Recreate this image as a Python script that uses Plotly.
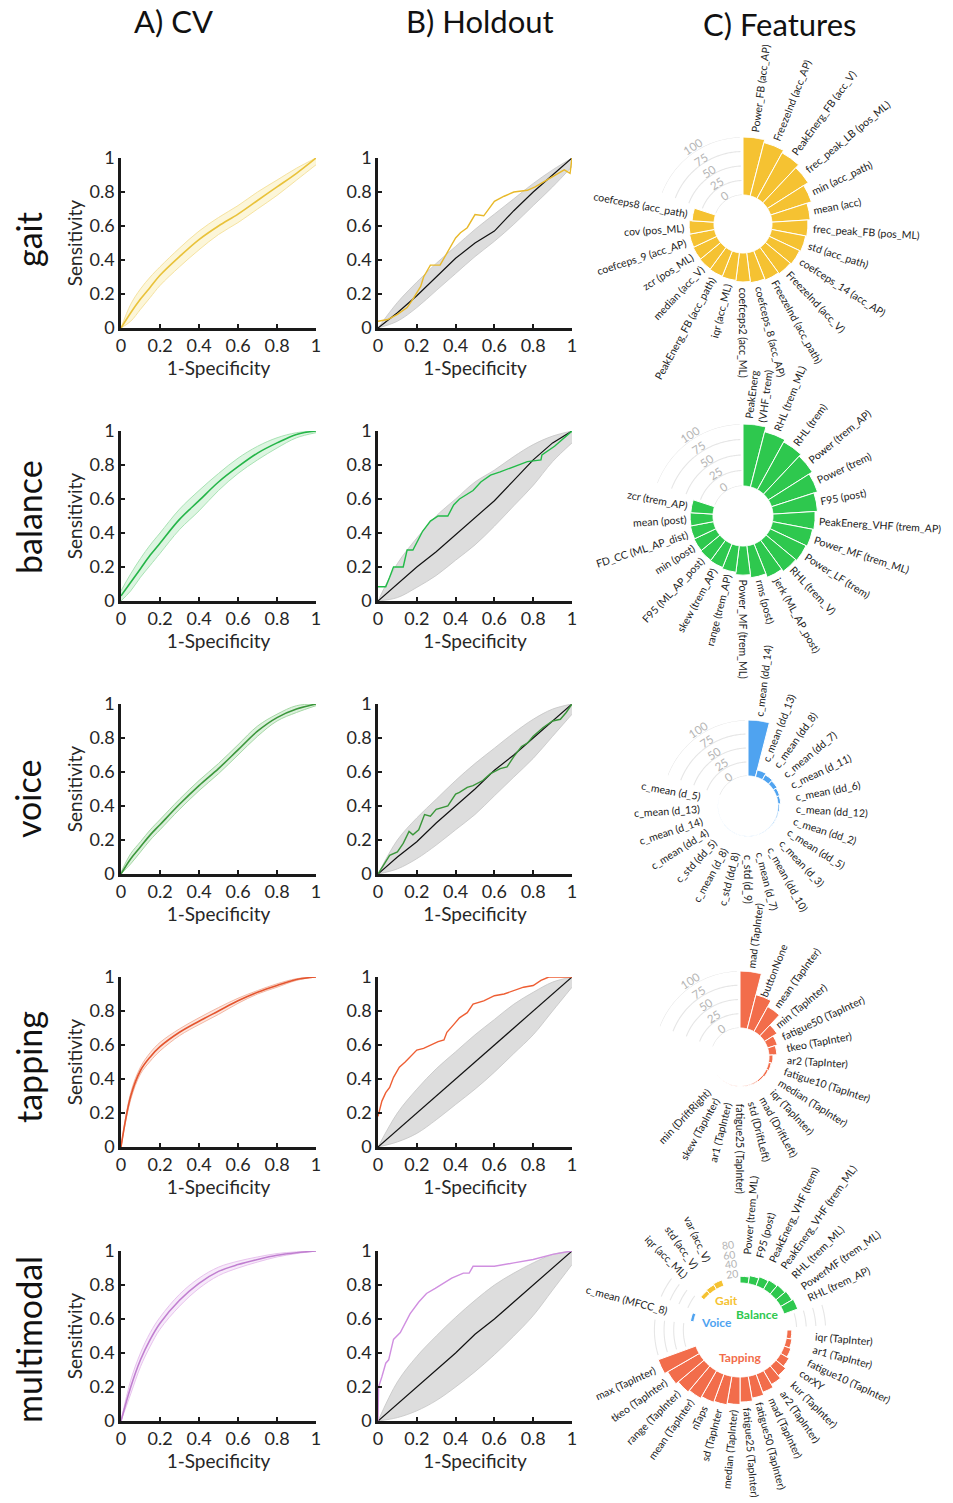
import math
import plotly.graph_objects as go

W, H = 953, 1503

# ------------------------------------------------------------------ data
modalities = ["gait", "balance", "voice", "tapping", "multimodal"]
col_titles = ["A) CV", "B) Holdout", "C) Features"]
tick_vals = [0, 0.2, 0.4, 0.6, 0.8, 1]
tick_text = ["0", "0.2", "0.4", "0.6", "0.8", "1"]

# cross-validation ROC (mean and band) on a common FPR grid
cv_fpr = [0, 0.05, 0.1, 0.15, 0.2, 0.3, 0.4, 0.5, 0.6, 0.7, 0.8, 0.9, 1.0]
gait_cv_mean = [0, 0.09, 0.17, 0.24, 0.31, 0.42, 0.52, 0.60, 0.67, 0.75, 0.83, 0.91, 1.0]
gait_cv_hi = [0, 0.14, 0.23, 0.30, 0.36, 0.47, 0.57, 0.65, 0.72, 0.80, 0.87, 0.94, 1.0]
gait_cv_lo = [0, 0.04, 0.11, 0.18, 0.25, 0.36, 0.46, 0.55, 0.62, 0.70, 0.78, 0.87, 0.96]
balance_cv_mean = [0.03, 0.11, 0.19, 0.27, 0.34, 0.48, 0.59, 0.70, 0.79, 0.87, 0.93, 0.98, 1.0]
balance_cv_hi = [0.06, 0.16, 0.25, 0.33, 0.40, 0.54, 0.65, 0.75, 0.84, 0.91, 0.96, 0.99, 1.0]
balance_cv_lo = [0.0, 0.06, 0.14, 0.21, 0.28, 0.42, 0.53, 0.65, 0.75, 0.83, 0.90, 0.96, 0.99]
voice_cv_mean = [0, 0.09, 0.16, 0.23, 0.29, 0.41, 0.52, 0.62, 0.73, 0.84, 0.92, 0.97, 1.0]
voice_cv_hi = [0.01, 0.12, 0.19, 0.26, 0.32, 0.44, 0.55, 0.65, 0.76, 0.87, 0.94, 0.99, 1.0]
voice_cv_lo = [0, 0.06, 0.13, 0.20, 0.26, 0.38, 0.49, 0.59, 0.70, 0.81, 0.90, 0.95, 0.99]
tapping_cv_mean = [0, 0.30, 0.45, 0.53, 0.59, 0.675, 0.74, 0.80, 0.86, 0.91, 0.95, 0.985, 1.0]
tapping_cv_hi = [0, 0.32, 0.47, 0.555, 0.615, 0.695, 0.76, 0.82, 0.875, 0.92, 0.96, 0.99, 1.0]
tapping_cv_lo = [0, 0.28, 0.43, 0.505, 0.565, 0.655, 0.72, 0.78, 0.845, 0.90, 0.94, 0.98, 1.0]
multimodal_cv_mean = [0, 0.20, 0.36, 0.48, 0.575, 0.71, 0.81, 0.88, 0.92, 0.95, 0.975, 0.99, 1.0]
multimodal_cv_hi = [0, 0.24, 0.40, 0.52, 0.61, 0.745, 0.84, 0.905, 0.94, 0.965, 0.985, 0.995, 1.0]
multimodal_cv_lo = [0, 0.16, 0.32, 0.44, 0.54, 0.675, 0.78, 0.855, 0.90, 0.935, 0.965, 0.985, 1.0]

# hold-out ROC curves
gait_ho_fpr = [0, 0.05, 0.10, 0.15, 0.18, 0.22, 0.235, 0.27, 0.32, 0.355, 0.40, 0.425, 0.46,
               0.50, 0.545, 0.60, 0.65, 0.70, 0.77, 0.81, 0.87, 0.94, 0.96, 0.99, 1.0]
gait_ho_tpr = [0.04, 0.05, 0.08, 0.12, 0.17, 0.245, 0.30, 0.37, 0.37, 0.44, 0.53, 0.56, 0.59,
               0.667, 0.66, 0.745, 0.775, 0.80, 0.81, 0.83, 0.87, 0.92, 0.93, 0.91, 1.0]
balance_ho_fpr = [0, 0.04, 0.06, 0.08, 0.13, 0.15, 0.18, 0.23, 0.27, 0.31, 0.36, 0.39, 0.42, 0.45,
                  0.49, 0.53, 0.58, 0.63, 0.70, 0.77, 0.84, 0.845, 0.91, 0.96, 1.0]
balance_ho_tpr = [0.084, 0.084, 0.14, 0.20, 0.20, 0.30, 0.30, 0.41, 0.47, 0.50, 0.50, 0.565, 0.60, 0.62,
                  0.65, 0.70, 0.74, 0.76, 0.79, 0.82, 0.83, 0.86, 0.91, 0.96, 1.0]
voice_ho_fpr = [0, 0.03, 0.06, 0.10, 0.13, 0.16, 0.18, 0.21, 0.24, 0.27, 0.30, 0.36, 0.40, 0.42,
                0.46, 0.49, 0.54, 0.58, 0.63, 0.665, 0.70, 0.74, 0.77, 0.80, 0.85, 0.90, 0.94, 0.97, 1.0]
voice_ho_tpr = [0, 0.055, 0.11, 0.13, 0.18, 0.25, 0.23, 0.26, 0.35, 0.34, 0.38, 0.40, 0.47, 0.48,
                0.51, 0.52, 0.55, 0.59, 0.62, 0.63, 0.69, 0.75, 0.77, 0.81, 0.86, 0.90, 0.91, 0.95, 1.0]
tapping_ho_fpr = [0, 0.01, 0.02, 0.04, 0.06, 0.08, 0.11, 0.14, 0.175, 0.20, 0.235, 0.27, 0.31, 0.34,
                  0.355, 0.39, 0.42, 0.46, 0.49, 0.545, 0.60, 0.65, 0.70, 0.75, 0.80, 0.84, 0.88, 1.0]
tapping_ho_tpr = [0.18, 0.23, 0.27, 0.32, 0.35, 0.41, 0.47, 0.50, 0.54, 0.57, 0.58, 0.60, 0.62, 0.63,
                  0.675, 0.72, 0.76, 0.79, 0.84, 0.86, 0.89, 0.90, 0.92, 0.94, 0.95, 0.98, 1.0, 1.0]
multimodal_ho_fpr = [0, 0.003, 0.02, 0.04, 0.055, 0.08, 0.115, 0.14, 0.165, 0.21, 0.25, 0.295, 0.34,
                     0.38, 0.44, 0.47, 0.49, 0.60, 0.70, 0.80, 0.90, 1.0]
multimodal_ho_tpr = [0, 0.20, 0.26, 0.34, 0.36, 0.48, 0.52, 0.58, 0.63, 0.70, 0.75, 0.78, 0.81,
                     0.84, 0.87, 0.87, 0.91, 0.91, 0.93, 0.95, 0.98, 1.0]

# permutation (null) ROC band and mean, hold-out column
null_fpr = [0, 0.1, 0.2, 0.3, 0.4, 0.5, 0.6, 0.7, 0.8, 0.9, 1.0]
gait_null_mean = [0, 0.09, 0.19, 0.30, 0.41, 0.50, 0.57, 0.69, 0.80, 0.90, 1.0]
gait_null_hi = [0, 0.15, 0.27, 0.38, 0.48, 0.58, 0.67, 0.76, 0.85, 0.93, 1.0]
gait_null_lo = [0, 0.04, 0.12, 0.22, 0.32, 0.42, 0.51, 0.61, 0.72, 0.83, 0.95]
balance_null_mean = [0, 0.10, 0.20, 0.29, 0.39, 0.49, 0.59, 0.71, 0.83, 0.93, 1.0]
balance_null_hi = [0, 0.22, 0.37, 0.50, 0.60, 0.70, 0.77, 0.85, 0.92, 0.97, 1.0]
balance_null_lo = [0, 0.02, 0.08, 0.15, 0.24, 0.33, 0.44, 0.56, 0.68, 0.82, 0.93]
voice_null_mean = [0, 0.10, 0.19, 0.30, 0.40, 0.50, 0.61, 0.70, 0.80, 0.90, 1.0]
voice_null_hi = [0, 0.20, 0.33, 0.44, 0.55, 0.65, 0.74, 0.83, 0.91, 0.97, 1.0]
voice_null_lo = [0, 0.03, 0.09, 0.17, 0.26, 0.35, 0.46, 0.57, 0.68, 0.81, 0.94]
tapping_null_mean = [0, 0.10, 0.20, 0.30, 0.40, 0.50, 0.60, 0.70, 0.80, 0.90, 1.0]
tapping_null_hi = [0, 0.20, 0.34, 0.46, 0.56, 0.66, 0.75, 0.84, 0.91, 0.97, 1.0]
tapping_null_lo = [0, 0.03, 0.08, 0.16, 0.25, 0.34, 0.44, 0.55, 0.66, 0.80, 0.94]
multimodal_null_mean = [0, 0.10, 0.20, 0.30, 0.40, 0.51, 0.60, 0.70, 0.80, 0.90, 1.0]
multimodal_null_hi = [0, 0.23, 0.38, 0.50, 0.61, 0.71, 0.80, 0.87, 0.93, 0.98, 1.0]
multimodal_null_lo = [0, 0.02, 0.06, 0.12, 0.20, 0.29, 0.39, 0.50, 0.62, 0.77, 0.92]

# feature importance (clockwise from the top)
gait_features = ["Power_FB (acc_AP)", "FreezeInd (acc_AP)", "PeakEnerg_FB (acc_V)", "frec_peak_LB (pos_ML)",
                 "min (acc_path)", "mean (acc)", "frec_peak_FB (pos_ML)", "std (acc_path)",
                 "coefceps_14 (acc_AP)", "FreezeInd (acc_V)", "FreezeInd (acc_path)", "coefceps_8 (acc_AP)",
                 "coefceps2 (acc_ML)", "iqr (acc_ML)", "PeakEnerg_FB (acc_path)", "median (acc_V)",
                 "zcr (pos_ML)", "coefceps_9 (acc_AP)", "cov (pos_ML)", "coefceps8 (acc_path)"]
gait_importance = [100, 95, 90, 83, 74, 66, 62, 60, 58, 56, 54, 52, 50, 48, 47, 46, 45, 44, 43, 38]

balance_features = ["PeakEnerg<br>(VHF_trem)", "RHL (trem_ML)", "RHL (trem)", "Power (trem_AP)",
                    "Power (trem)", "F95 (post)", "PeakEnerg_VHF (trem_AP)", "Power_MF (trem_ML)",
                    "Power_LF (trem)", "RHL (trem_V)", "jerk (ML_AP_post)", "rms (post)",
                    "Power_MF (trem_ML)", "range (trem_AP)", "skew (trem_AP)", "F95 (ML_AP_post)",
                    "min (post)", "FD_CC (ML_AP_dist)", "mean (post)", "zcr (trem_AP)"]
balance_importance = [100, 92, 88, 84, 78, 72, 68, 66, 64, 62, 58, 52, 47, 43, 41, 40, 39, 38, 37, 36]

voice_features = ["c_mean (dd_14)", "c_mean (dd_13)", "c_mean (dd_8)", "c_mean (dd_7)", "c_mean (d_11)",
                  "c_mean (dd_6)", "c_mean (dd_12)", "c_mean (dd_2)", "c_mean (dd_5)", "c_mean (d_3)",
                  "c_mean (dd_10)", "c_mean (d_7)", "c_std (d_9)", "c_std (dd_8)", "c_mean (d_8)",
                  "c_std (dd_5)", "c_mean (dd_4)", "c_mean (d_14)", "c_mean (d_13)", "c_mean (d_5)"]
voice_importance = [100, 13, 10, 8, 6, 5, 3, 2, 1.5, 1.2, 1, 0.8, 0.7, 0.6, 0.5, 0.4, 0.4, 0.3, 0.3, 0.2]

tapping_features = ["mad (TapInter)", "buttonNone", "mean (TapInter)", "min (TapInter)",
                    "fatigue50 (TapInter)", "tkeo (TapInter)", "ar2 (TapInter)", "fatigue10 (TapInter)",
                    "median (TapInter)", "iqr (TapInter)", "mad (DriftLeft)", "std (DriftLeft)",
                    "fatigue25 (TapInter)", "ar1 (TapInter)", "skew (TapInter)", "min (DriftRight)"]
tapping_importance = [100, 62, 50, 26, 18, 14, 7, 5, 4, 3, 2, 1.5, 1, 0.8, 0.5, 0.3]

mm_balance_features = ["Power (trem_ML)", "F95 (post)", "PeakEnerg_VHF (trem)", "PeakEnerg_VHF (trem_ML)",
                       "RHL (trem_ML)", "PowerMF (trem_ML)", "RHL (trem_AP)"]
mm_balance_importance = [14, 17, 20, 22, 24, 27, 30]
mm_tapping_features = ["iqr (TapInter)", "ar1 (TapInter)", "fatigue10 (TapInter)", "corXY", "kur (TapInter)",
                       "ar2 (TapInter)", "mad (TapInter)", "fatigue50 (TapInter)", "fatigue25 (TapInter)",
                       "median (TapInter)", "sd (TapInter", "nTaps", "mean (TapInter)", "range (TapInter)",
                       "tkeo (TapInter)", "max (TapInter)"]
mm_tapping_importance = [10, 12, 15, 20, 26, 33, 40, 46, 52, 57, 60, 62, 66, 70, 76, 83]
mm_voice_features = ["c_mean (MFCC_8)"]
mm_voice_importance = [7]
mm_gait_features = ["iqr (acc_ML)", "std (acc_V)", "var (acc_V)"]
mm_gait_importance = [9, 11, 13]

single_ticks = [0, 25, 50, 75, 100]
multi_ticks = [20, 40, 60, 80]

# ------------------------------------------------------------------ styles
GAIT, BAL, VOICE, TAP, MULTI = "#F5C232", "#2EC84E", "#4FA3F0", "#F26D4B", "#CF8EDF"
cv_line = ["#E9C23A", "#25B548", "#3B963B", "#E4552F", "#C07FD0"]
cv_edge = ["#F6E3A0", "#A8E3B4", "#A5D8A5", "#F3B7A3", "#E8C3EE"]
cv_fill = ["rgba(246,221,120,0.28)", "rgba(100,210,120,0.22)", "rgba(100,190,100,0.22)",
           "rgba(240,140,110,0.22)", "rgba(220,160,230,0.22)"]
ho_line = ["#E8B92A", "#22BB48", "#3A963A", "#EE5E33", "#D08FE0"]
FONT = "Lato"
TXT = "#262626"

cv_data = [(gait_cv_mean, gait_cv_lo, gait_cv_hi), (balance_cv_mean, balance_cv_lo, balance_cv_hi),
           (voice_cv_mean, voice_cv_lo, voice_cv_hi), (tapping_cv_mean, tapping_cv_lo, tapping_cv_hi),
           (multimodal_cv_mean, multimodal_cv_lo, multimodal_cv_hi)]
ho_data = [(gait_ho_fpr, gait_ho_tpr), (balance_ho_fpr, balance_ho_tpr), (voice_ho_fpr, voice_ho_tpr),
           (tapping_ho_fpr, tapping_ho_tpr), (multimodal_ho_fpr, multimodal_ho_tpr)]
null_data = [(gait_null_mean, gait_null_lo, gait_null_hi), (balance_null_mean, balance_null_lo, balance_null_hi),
             (voice_null_mean, voice_null_lo, voice_null_hi), (tapping_null_mean, tapping_null_lo, tapping_null_hi),
             (multimodal_null_mean, multimodal_null_lo, multimodal_null_hi)]

# layout geometry (pixels)
row_top = [158, 431, 704, 977, 1251]
plot_h = 170
colA = (121, 316)
colB = (378, 572)

fig = go.Figure()
layout = dict(width=W, height=H, autosize=False,
              margin=dict(l=0, r=0, t=0, b=0, pad=0, autoexpand=False),
              paper_bgcolor="white", plot_bgcolor="white", showlegend=False)


def axref(n):
    return ("x" if n == 1 else f"x{n}"), ("y" if n == 1 else f"y{n}")


for i, m in enumerate(modalities):
    y0 = row_top[i]
    ydom = [1 - (y0 + plot_h) / H, 1 - y0 / H]
    for k, (xl, xr) in enumerate([colA, colB]):
        n = 2 * i + k + 1
        xr_, yr_ = axref(n)
        common = dict(range=[0, 1], showgrid=False, zeroline=False, showline=True, linecolor="#1a1a1a",
                      linewidth=2.5, ticks="inside", ticklen=4, tickwidth=1.5, tickcolor="#1a1a1a",
                      tickvals=tick_vals, ticktext=tick_text, fixedrange=True, automargin=False,
                      tickfont=dict(family=FONT, size=18, color=TXT))
        layout["xaxis" if n == 1 else f"xaxis{n}"] = dict(
            common, domain=[xl / W, xr / W], anchor=yr_,
            title=dict(text="1-Specificity", font=dict(family=FONT, size=19, color=TXT), standoff=2))
        ydict = dict(common, domain=ydom, anchor=xr_)
        if k == 0:
            ydict["title"] = dict(text="Sensitivity", font=dict(family=FONT, size=19, color=TXT), standoff=2)
        layout["yaxis" if n == 1 else f"yaxis{n}"] = ydict

        if k == 0:
            mean, lo, hi = cv_data[i]
            fig.add_trace(go.Scatter(x=cv_fpr, y=lo, xaxis=xr_, yaxis=yr_, mode="lines", line_shape="spline",
                                     line=dict(color=cv_edge[i], width=1), hoverinfo="skip"))
            fig.add_trace(go.Scatter(x=cv_fpr, y=hi, xaxis=xr_, yaxis=yr_, mode="lines", line_shape="spline",
                                     fill="tonexty", fillcolor=cv_fill[i],
                                     line=dict(color=cv_edge[i], width=1), hoverinfo="skip"))
            fig.add_trace(go.Scatter(x=cv_fpr, y=mean, xaxis=xr_, yaxis=yr_, mode="lines", line_shape="spline",
                                     line=dict(color=cv_line[i], width=1.6)))
        else:
            nmean, nlo, nhi = null_data[i]
            fig.add_trace(go.Scatter(x=null_fpr, y=nlo, xaxis=xr_, yaxis=yr_, mode="lines", line_shape="spline",
                                     line=dict(color="#C4C4C4", width=0.8), hoverinfo="skip"))
            fig.add_trace(go.Scatter(x=null_fpr, y=nhi, xaxis=xr_, yaxis=yr_, mode="lines", line_shape="spline",
                                     fill="tonexty", fillcolor="rgba(200,200,200,0.62)",
                                     line=dict(color="#C4C4C4", width=0.8), hoverinfo="skip"))
            fig.add_trace(go.Scatter(x=null_fpr, y=nmean, xaxis=xr_, yaxis=yr_, mode="lines",
                                     line=dict(color="#111111", width=1.2)))
            hx, hy = ho_data[i]
            fig.add_trace(go.Scatter(x=hx, y=hy, xaxis=xr_, yaxis=yr_, mode="lines",
                                     line=dict(color=ho_line[i], width=1.4)))

annotations = []
# column titles
for t, (x, y) in zip(col_titles, [(173, 21), (480, 21), (780, 24)]):
    annotations.append(dict(text=t, x=x / W, y=1 - y / H, xref="paper", yref="paper", showarrow=False,
                            xanchor="center", yanchor="middle", font=dict(family=FONT, size=31, color="#111")))
# row labels
for t, y in zip(modalities, [240, 517, 799, 1067, 1340]):
    annotations.append(dict(text=t, x=28 / W, y=1 - y / H, xref="paper", yref="paper", showarrow=False,
                            textangle=-90, xanchor="center", yanchor="middle",
                            font=dict(family=FONT, size=34, color="#111")))


# ------------------------------------------------------------------ polar helpers
def text_len(s, size):
    best = 0
    for line in s.split("<br>"):
        w = 0
        for ch in line:
            if ch in "il.,:;|!'":
                w += 0.24
            elif ch in "jI":
                w += 0.27
            elif ch in "ftr()[] ":
                w += 0.33
            elif ch == "_":
                w += 0.5
            elif ch.isdigit():
                w += 0.56
            elif ch in "mw":
                w += 0.8
            elif ch in "MW":
                w += 0.88
            elif ch.isupper():
                w += 0.63
            else:
                w += 0.52
        best = max(best, w)
    return best * size


LABEL_SIZE = 10.5


def px_radius(g, v):
    return g["hole"] + v * (g["R"] - g["hole"]) / g["rmax"]


def to_paper(g, r, th):
    t = math.radians(th)
    return (g["cx"] + r * math.sin(t)) / W, 1 - (g["cy"] - r * math.cos(t)) / H


def add_label(g, text, th, r0):
    L = text_len(text, LABEL_SIZE)
    rc = r0 + L / 2
    x, y = to_paper(g, rc, th)
    ang = th - 90 if th <= 180 else th - 270
    annotations.append(dict(text=text, x=x, y=y, xref="paper", yref="paper", showarrow=False, textangle=ang,
                            xanchor="center", yanchor="middle",
                            font=dict(family=FONT, size=LABEL_SIZE, color="#222")))


polar_geo = [dict(cx=743, cy=224, hole=29, R=87, rmax=100),
             dict(cx=743, cy=516, hole=30, R=92, rmax=100),
             dict(cx=748, cy=806, hole=30, R=86, rmax=100),
             dict(cx=740, cy=1057, hole=29, R=86, rmax=100),
             dict(cx=740, cy=1330, hole=47, R=88, rmax=85)]

for p, g in enumerate(polar_geo):
    name = "polar" if p == 0 else f"polar{p + 1}"
    layout[name] = dict(domain=dict(x=[(g["cx"] - g["R"]) / W, (g["cx"] + g["R"]) / W],
                                    y=[1 - (g["cy"] + g["R"]) / H, 1 - (g["cy"] - g["R"]) / H]),
                        hole=g["hole"] / g["R"], bgcolor="rgba(0,0,0,0)",
                        radialaxis=dict(range=[0, g["rmax"]], visible=False, showgrid=False),
                        angularaxis=dict(visible=False, showgrid=False, rotation=90, direction="clockwise",
                                         thetaunit="degrees"))

# single-modality feature panels
single = [(gait_features, gait_importance, GAIT), (balance_features, balance_importance, BAL),
          (voice_features, voice_importance, VOICE), (tapping_features, tapping_importance, TAP)]
N_SLOTS = 25
slot = 360 / N_SLOTS
for p, (feats, imp, colr) in enumerate(single):
    g = polar_geo[p]
    sub = "polar" if p == 0 else f"polar{p + 1}"
    # grid arcs in the empty sector
    arc_th = [291 + j for j in range(68)]
    for v in single_ticks:
        fig.add_trace(go.Scatterpolar(r=[v] * len(arc_th), theta=arc_th, mode="lines", subplot=sub,
                                      line=dict(color="#E6E6E6", width=1.1), hoverinfo="skip"))
    thetas = [(j + 0.5) * slot for j in range(len(imp))]
    fig.add_trace(go.Barpolar(r=imp, theta=thetas, width=[slot] * len(imp), subplot=sub,
                              marker=dict(color=colr, line=dict(color="white", width=1))))
    for f, v, th in zip(feats, imp, thetas):
        r0 = max(px_radius(g, v) + 3, g["hole"] + 17)
        add_label(g, f, th, r0)
    for v in single_ticks:
        x, y = to_paper(g, px_radius(g, v) + 5, 327)
        annotations.append(dict(text=str(v), x=x, y=y, xref="paper", yref="paper", showarrow=False,
                                textangle=-33, xanchor="center", yanchor="middle",
                                font=dict(family=FONT, size=11.5, color="#B5B5B5")))

# multimodal panel
g = polar_geo[4]
sub = "polar5"
mm_groups = [(mm_balance_features, mm_balance_importance, BAL, 2),
             (mm_tapping_features, mm_tapping_importance, TAP, 3),
             (mm_voice_features, mm_voice_importance, VOICE, 2),
             (mm_gait_features, mm_gait_importance, GAIT, 2)]
mm_slot = 10
pos = 0
for gi, (feats, imp, colr, gap) in enumerate(mm_groups):
    thetas = [(pos + j + 0.5) * mm_slot for j in range(len(imp))]
    fig.add_trace(go.Barpolar(r=imp, theta=thetas, width=[mm_slot] * len(imp), subplot=sub,
                              marker=dict(color=colr, line=dict(color="white", width=1))))
    for f, v, th in zip(feats, imp, thetas):
        r0 = px_radius(g, max(v + 10, 56))
        add_label(g, f, th, r0)
    pos += len(imp)
    if gi < len(mm_groups) - 1:
        start, end = pos * mm_slot + 3, (pos + gap) * mm_slot - 3
        arc_th = [start + j for j in range(int(end - start) + 1)]
        for v in multi_ticks:
            fig.add_trace(go.Scatterpolar(r=[v] * len(arc_th), theta=arc_th, mode="lines", subplot=sub,
                                          line=dict(color="#E6E6E6", width=1.1), hoverinfo="skip"))
    pos += gap
for v in multi_ticks:
    x, y = to_paper(g, px_radius(g, v), 352)
    annotations.append(dict(text=str(v), x=x, y=y, xref="paper", yref="paper", showarrow=False,
                            textangle=-8, xanchor="center", yanchor="middle",
                            font=dict(family=FONT, size=10.5, color="#B5B5B5")))
for t, c, (x, y) in [("Gait", GAIT, (726, 1300)), ("Balance", BAL, (757, 1314)),
                     ("Voice", VOICE, (716, 1322)), ("Tapping", TAP, (740, 1357))]:
    annotations.append(dict(text=f"<b>{t}</b>", x=x / W, y=1 - y / H, xref="paper", yref="paper",
                            showarrow=False, xanchor="center", yanchor="middle",
                            font=dict(family=FONT, size=12, color=c)))

layout["annotations"] = annotations
fig.update_layout(**layout)
fig.update_traces(showlegend=False)

fig.write_html("out.html", config={"displayModeBar": False},
               post_script="document.body.style.margin='0';document.body.style.overflow='hidden';")
